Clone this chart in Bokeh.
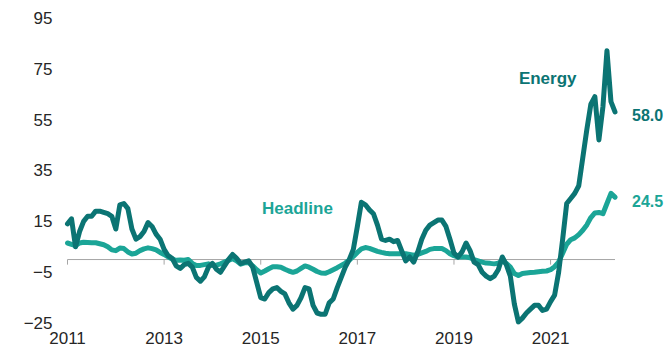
import pandas as pd
from bokeh.plotting import figure
from bokeh.models import ColumnDataSource, FixedTicker, Range1d
from bokeh.core.properties import value
from bokeh.embed import file_html
from bokeh.resources import INLINE

# Monthly data, Jan 2011 - May 2022 (year-over-year %)
months = pd.date_range("2011-01-01", "2022-05-01", freq="MS")

energy = [
    14, 16, 5, 11, 15, 17, 17, 19, 19, 18.5, 18, 17,            # 2011
    12, 21.5, 22, 20, 12, 8, 9, 11, 14.5, 13, 10, 8,            # 2012
    4, 1.5, 0.5, -2.5, -3.5, -2, -1.5, -3, -7, -8.5, -6.8, -3,  # 2013
    -1.5, -3.8, -5, -2.5, 0, 2, 0.5, -1.5, -1, -0.5, -3, -9,    # 2014
    -15, -15.5, -13, -11.5, -11, -12.5, -13.5, -17, -19.5, -18, -15, -11,  # 2015
    -11.5, -18, -21, -21.5, -21.5, -17, -15.5, -11, -7, -3, 0, 4,          # 2016
    13, 22.5, 21.5, 19.5, 18, 13.5, 8, 7.5, 8, 7, 7.5, 3.5,     # 2017
    -0.5, 1, -1, 3, 8, 11.5, 13.5, 14.5, 15.5, 15.5, 13, 8,     # 2018
    2.5, 1, 3, 6.5, 3.5, -1, -2, -5, -6.5, -7.5, -6.5, -4,      # 2019
    1, -2, -6.5, -17.5, -24.5, -23, -21, -19.5, -18, -18, -20, -19.5,  # 2020
    -16.5, -14, -5, 8, 22, 24, 26, 29, 40, 51, 61, 64,          # 2021
    47, 60, 82, 62, 58.0,                                       # 2022
]

headline = [
    6.5, 6, 5.5, 6.5, 6.8, 6.7, 6.6, 6.6, 6.2, 5.8, 5, 3.8,     # 2011
    3.5, 4.5, 4.3, 3, 2.2, 2.5, 3.5, 4.2, 4.6, 4.3, 3.8, 2.8,   # 2012
    2, 1, 0.2, -0.3, -0.2, -0.3, 0, -1.5, -2.3, -2.3, -2, -1.7, # 2013
    -2.2, -2.2, -1.7, -1, -0.3, 0.3, -0.5, -1.8, -1.3, -1.2, -2.5, -4,  # 2014
    -5.3, -4.5, -3.6, -2.8, -2.8, -3, -3.8, -4.5, -5, -4.5, -3.5, -2.5, # 2015
    -3, -3.8, -4.7, -5.3, -5.4, -4.8, -4, -3.2, -2.3, -1.4, -0.2, 1.2,  # 2016
    2.8, 4.2, 4.7, 4.4, 3.8, 3.2, 2.8, 2.5, 2.3, 2.3, 2.3, 2.3, # 2017
    2.3, 2, 1.7, 2, 2.6, 3.2, 4, 4.3, 4.3, 4.3, 3.5, 2.3,       # 2018
    1.5, 1, 1, 1, 0.7, 0, -0.5, -1, -1.4, -1.5, -1.7, -1.4,     # 2019
    -0.7, -1.5, -3, -5.5, -6.3, -5.5, -5.3, -5.1, -5, -4.8, -4.6, -4.5, # 2020
    -4, -2.8, -1, 2.5, 6, 7.8, 8.5, 9.8, 11.5, 13.6, 16.5, 18.3,        # 2021
    18.5, 18, 22, 26, 24.5,                                     # 2022
]

year_ticks = [2011, 2013, 2015, 2017, 2019, 2021]
y_ticks = [-25, -5, 15, 35, 55, 75, 95]

energy_color = "#0b7473"
headline_color = "#1ba597"
axis_color = "#a6a6a6"
label_color = "#262626"
font = "Liberation Sans"
tick_len = 2.0  # zero-axis tick length, in y units

t = [d.year + (d.month - 1) / 12 for d in months]
src = ColumnDataSource(dict(t=t, energy=energy, headline=headline))

p = figure(frame_width=607, frame_height=326, output_backend="svg",
           toolbar_location=None,
           x_range=Range1d(2010.855, 2023.42), y_range=Range1d(-26.3, 101.75),
           min_border_left=60, min_border_right=0, min_border_top=0,
           min_border_bottom=23)
p.outline_line_color = None
p.xgrid.visible = False
p.ygrid.visible = False
p.background_fill_color = "white"
p.border_fill_color = "white"

# y axis
p.yaxis.ticker = FixedTicker(ticks=y_ticks)
p.yaxis.axis_line_color = None
p.yaxis.major_tick_line_color = None
p.yaxis.minor_tick_line_color = None
p.yaxis.major_tick_out = 0
p.yaxis.major_label_standoff = 8
p.yaxis.major_label_text_font = font
p.yaxis.major_label_text_font_size = "17px"
p.yaxis.major_label_text_color = label_color

# x axis (labels only at bottom)
p.xaxis.ticker = FixedTicker(ticks=year_ticks)
p.xaxis.axis_line_color = None
p.xaxis.major_tick_line_color = None
p.xaxis.minor_tick_line_color = None
p.xaxis.major_tick_out = 0
p.xaxis.major_label_standoff = 5
p.xaxis.major_label_overrides = {y: str(y) for y in year_ticks}
p.xaxis.major_label_text_font = font
p.xaxis.major_label_text_font_size = "17px"
p.xaxis.major_label_text_color = label_color

# zero line with downward ticks at the labelled years
p.line(x=[t[0], t[-1]], y=[0, 0], line_color=axis_color, line_width=1)
p.segment(x0=year_ticks, y0=[0] * len(year_ticks), x1=year_ticks,
          y1=[-tick_len] * len(year_ticks), line_color=axis_color, line_width=1)

p.line("t", "headline", source=src, line_color=headline_color, line_width=5,
       line_join="round", line_cap="round")
p.line("t", "energy", source=src, line_color=energy_color, line_width=5,
       line_join="round", line_cap="round")

# series labels
p.text(x=[2020.94], y=[71.2], text=["Energy"], text_font=value(font),
       text_font_style="bold", text_font_size="17px", text_color=energy_color,
       text_align="center", text_baseline="middle")
p.text(x=[2015.76], y=[20.0], text=["Headline"], text_font=value(font),
       text_font_style="bold", text_font_size="17px", text_color=headline_color,
       text_align="center", text_baseline="middle")

# end-value labels
p.text(x=[t[-1]], y=[energy[-1]], text=[f"{energy[-1]:.1f}"], text_font=value(font),
       text_font_style="bold", text_font_size="16px", text_color=energy_color,
       text_align="left", text_baseline="middle", x_offset=17, y_offset=3)
p.text(x=[t[-1]], y=[headline[-1]], text=[f"{headline[-1]:.1f}"], text_font=value(font),
       text_font_style="bold", text_font_size="16px", text_color=headline_color,
       text_align="left", text_baseline="middle", x_offset=17, y_offset=4)

open("out.html", "w").write(file_html(p, INLINE))
